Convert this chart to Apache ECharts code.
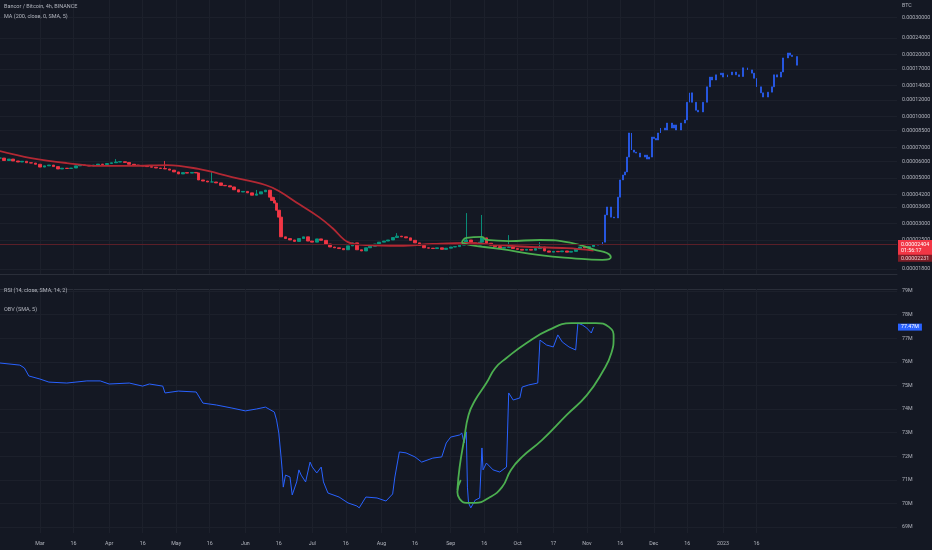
<!DOCTYPE html>
<html><head><meta charset="utf-8">
<script src="https://cdn.jsdelivr.net/npm/echarts@6/dist/echarts.min.js"></script>
<style>html,body{margin:0;padding:0;background:#141823;}#c{width:932px;height:550px;}</style>
</head><body><div id="c"></div>
<script>
// ---------------- DATA ----------------
const priceDates = ['2022-02-11','2022-02-13','2022-02-15','2022-02-17','2022-02-19','2022-02-21','2022-02-23','2022-02-25','2022-02-27',
'2022-03-01','2022-03-03','2022-03-05','2022-03-07','2022-03-09','2022-03-11','2022-03-13','2022-03-15','2022-03-17','2022-03-19','2022-03-21','2022-03-23','2022-03-25','2022-03-27','2022-03-29','2022-03-31',
'2022-04-02','2022-04-04','2022-04-06','2022-04-08','2022-04-10','2022-04-12','2022-04-14','2022-04-16','2022-04-18','2022-04-20','2022-04-22','2022-04-24','2022-04-26','2022-04-28','2022-04-30',
'2022-05-02','2022-05-04','2022-05-06','2022-05-08','2022-05-10','2022-05-11','2022-05-13','2022-05-15','2022-05-17','2022-05-19','2022-05-21','2022-05-23','2022-05-25','2022-05-27','2022-05-29','2022-05-31',
'2022-06-02','2022-06-04','2022-06-06','2022-06-08','2022-06-10','2022-06-12','2022-06-13','2022-06-14','2022-06-15','2022-06-16','2022-06-17','2022-06-19','2022-06-21','2022-06-23','2022-06-25','2022-06-27','2022-06-29',
'2022-07-01','2022-07-03','2022-07-05','2022-07-07','2022-07-09','2022-07-11','2022-07-13','2022-07-15','2022-07-17','2022-07-19','2022-07-21','2022-07-23','2022-07-25','2022-07-27','2022-07-29','2022-07-31',
'2022-08-02','2022-08-04','2022-08-06','2022-08-08','2022-08-10','2022-08-12','2022-08-14','2022-08-16','2022-08-18','2022-08-20','2022-08-22','2022-08-24','2022-08-26','2022-08-28','2022-08-30',
'2022-09-01','2022-09-03','2022-09-05','2022-09-07','2022-09-08','2022-09-10','2022-09-12','2022-09-14','2022-09-15','2022-09-17','2022-09-19','2022-09-21','2022-09-23','2022-09-25','2022-09-27','2022-09-29',
'2022-10-01','2022-10-03','2022-10-05','2022-10-07','2022-10-09','2022-10-11','2022-10-13','2022-10-15','2022-10-17','2022-10-19','2022-10-21','2022-10-23','2022-10-25','2022-10-27','2022-10-29','2022-10-31',
'2022-11-02','2022-11-04'];
const priceClose = [6.27e-5,6.10e-5,6.20e-5,6.07e-5,6.00e-5,6.05e-5,5.95e-5,5.93e-5,5.85e-5,
5.67e-5,5.75e-5,5.80e-5,5.70e-5,5.55e-5,5.60e-5,5.58e-5,5.61e-5,5.75e-5,5.80e-5,5.78e-5,5.74e-5,5.80e-5,5.86e-5,5.83e-5,5.90e-5,
5.95e-5,6.00e-5,6.02e-5,5.97e-5,5.85e-5,5.80e-5,5.77e-5,5.74e-5,5.70e-5,5.66e-5,5.61e-5,5.58e-5,5.55e-5,5.48e-5,5.37e-5,
5.25e-5,5.33e-5,5.30e-5,5.34e-5,5.31e-5,4.91e-5,4.85e-5,4.80e-5,4.80e-5,4.75e-5,4.62e-5,4.60e-5,4.54e-5,4.40e-5,4.29e-5,4.32e-5,
4.25e-5,4.14e-5,4.20e-5,4.30e-5,4.38e-5,4.05e-5,3.90e-5,3.79e-5,3.50e-5,3.24e-5,2.60e-5,2.55e-5,2.51e-5,2.47e-5,2.55e-5,2.60e-5,2.48e-5,
2.45e-5,2.54e-5,2.50e-5,2.40e-5,2.32e-5,2.30e-5,2.28e-5,2.25e-5,2.35e-5,2.43e-5,2.25e-5,2.22e-5,2.30e-5,2.34e-5,2.40e-5,2.45e-5,
2.48e-5,2.51e-5,2.58e-5,2.62e-5,2.60e-5,2.57e-5,2.50e-5,2.43e-5,2.36e-5,2.30e-5,2.29e-5,2.28e-5,2.30e-5,2.26e-5,2.29e-5,
2.32e-5,2.33e-5,2.37e-5,2.42e-5,2.51e-5,2.43e-5,2.37e-5,2.45e-5,2.57e-5,2.42e-5,2.37e-5,2.33e-5,2.29e-5,2.31e-5,2.32e-5,2.28e-5,
2.26e-5,2.24e-5,2.26e-5,2.24e-5,2.28e-5,2.32e-5,2.22e-5,2.19e-5,2.21e-5,2.20e-5,2.22e-5,2.19e-5,2.21e-5,2.28e-5,2.32e-5,2.30e-5,
2.33e-5,2.38e-5];
const wickDates = ['2022-04-04','2022-04-26','2022-05-17','2022-06-06','2022-06-14','2022-08-08','2022-09-08','2022-09-15','2022-09-27','2022-10-11'];
const wickHigh  = [6.20e-5,6.07e-5,5.37e-5,4.39e-5,4.05e-5,2.71e-5,3.39e-5,3.32e-5,2.65e-5,2.45e-5];

const projDates = ['2022-11-06','2022-11-08','2022-11-09','2022-11-10','2022-11-12','2022-11-13','2022-11-15','2022-11-16','2022-11-17','2022-11-18','2022-11-19','2022-11-20','2022-11-21','2022-11-22','2022-11-23','2022-11-25','2022-11-27','2022-11-28','2022-11-29','2022-11-30',
'2022-12-01','2022-12-02','2022-12-03','2022-12-04','2022-12-06','2022-12-07','2022-12-09','2022-12-10','2022-12-11','2022-12-13','2022-12-15','2022-12-16','2022-12-17','2022-12-18','2022-12-20','2022-12-21','2022-12-23','2022-12-25','2022-12-26','2022-12-27','2022-12-29','2022-12-31',
'2023-01-01','2023-01-03','2023-01-05','2023-01-07','2023-01-08','2023-01-10','2023-01-12','2023-01-14','2023-01-15','2023-01-16','2023-01-18','2023-01-19','2023-01-21','2023-01-23','2023-01-24','2023-01-25','2023-01-27','2023-01-28','2023-01-30','2023-01-31',
'2023-02-01','2023-02-03'];
const projClose = [2.37e-5,2.45e-5,3.32e-5,3.63e-5,3.24e-5,3.21e-5,4.05e-5,4.91e-5,5.19e-5,5.37e-5,6.34e-5,8.30e-5,6.86e-5,6.70e-5,6.63e-5,6.34e-5,6.48e-5,6.20e-5,6.34e-5,7.93e-5,
7.80e-5,7.67e-5,8.30e-5,8.77e-5,8.58e-5,9.27e-5,8.77e-5,9.08e-5,8.58e-5,9.27e-5,9.60e-5,11.7e-5,13.0e-5,11.7e-5,10.7e-5,10.5e-5,11.7e-5,13.9e-5,15.5e-5,15.0e-5,15.9e-5,16.2e-5,
15.5e-5,15.9e-5,16.4e-5,15.9e-5,15.6e-5,17.2e-5,16.8e-5,16.2e-5,15.3e-5,13.9e-5,13.0e-5,12.4e-5,13.1e-5,13.9e-5,15.9e-5,15.5e-5,16.4e-5,19.2e-5,20.3e-5,19.8e-5,
19.5e-5,17.7e-5];

const maDates  = ['2022-02-11','2022-02-25','2022-03-13','2022-03-28','2022-04-11','2022-04-27','2022-05-11','2022-05-26','2022-06-10','2022-06-16','2022-06-25','2022-07-04','2022-07-10','2022-07-17','2022-07-25','2022-08-09','2022-08-24','2022-09-08','2022-09-23','2022-10-07','2022-10-23','2022-11-04'];
const maValues = [6.78e-5,6.27e-5,5.93e-5,5.74e-5,5.74e-5,5.80e-5,5.55e-5,5.07e-5,4.64e-5,4.34e-5,3.75e-5,3.24e-5,2.87e-5,2.45e-5,2.37e-5,2.35e-5,2.40e-5,2.43e-5,2.37e-5,2.32e-5,2.29e-5,2.231e-5];

const obvDates = ['2022-02-11','2022-02-20','2022-02-22','2022-02-24','2022-03-01','2022-03-05','2022-03-13','2022-03-22','2022-03-28','2022-04-01','2022-04-10','2022-04-16','2022-04-19','2022-04-25','2022-04-26',
'2022-05-02','2022-05-10','2022-05-13','2022-05-19','2022-05-26','2022-06-01','2022-06-06','2022-06-10','2022-06-14','2022-06-15','2022-06-16','2022-06-17 00:00','2022-06-17 12:00','2022-06-18','2022-06-19','2022-06-21','2022-06-22','2022-06-24','2022-06-25','2022-06-26','2022-06-28','2022-06-30',
'2022-07-01','2022-07-03','2022-07-05','2022-07-06','2022-07-08','2022-07-13','2022-07-17','2022-07-21','2022-07-22','2022-07-25','2022-07-30','2022-08-03','2022-08-06','2022-08-07','2022-08-09','2022-08-12','2022-08-16','2022-08-19','2022-08-24','2022-08-28','2022-08-30',
'2022-09-01','2022-09-05','2022-09-06','2022-09-07','2022-09-08 00:00','2022-09-08 12:00','2022-09-09','2022-09-10','2022-09-12','2022-09-14','2022-09-15 00:00','2022-09-15 12:00','2022-09-17','2022-09-20','2022-09-23','2022-09-26','2022-09-27','2022-09-29',
'2022-10-02','2022-10-03','2022-10-06','2022-10-10','2022-10-11','2022-10-14','2022-10-17','2022-10-19','2022-10-21','2022-10-24','2022-10-27','2022-10-28','2022-10-30','2022-11-01','2022-11-03','2022-11-04'];
const obvValues = [75.95e6,75.86e6,75.74e6,75.40e6,75.27e6,75.14e6,75.10e6,75.19e6,75.19e6,75.06e6,75.10e6,74.97e6,75.06e6,74.97e6,74.68e6,
74.76e6,74.72e6,74.25e6,74.17e6,74.04e6,73.92e6,74.00e6,74.08e6,73.87e6,73.53e6,72.98e6,71.97e6,71.42e6,70.69e6,71.20e6,71.12e6,70.36e6,70.91e6,71.42e6,71.20e6,70.91e6,71.75e6,
71.54e6,71.29e6,71.54e6,70.91e6,70.44e6,70.27e6,70.02e6,69.89e6,69.81e6,70.27e6,70.23e6,70.10e6,70.40e6,71.12e6,72.18e6,72.14e6,71.97e6,71.75e6,71.92e6,71.97e6,72.56e6,
72.81e6,72.90e6,72.98e6,72.56e6,73.03e6,70.69e6,70.02e6,69.81e6,70.14e6,70.23e6,72.35e6,71.42e6,71.71e6,71.42e6,71.33e6,71.54e6,74.68e6,74.38e6,
74.47e6,74.93e6,75.02e6,75.10e6,76.92e6,76.71e6,76.63e6,77.14e6,76.84e6,76.63e6,76.50e6,77.64e6,77.56e6,77.43e6,77.22e6,77.47e6];

// hand-drawn green annotations (in data coordinates)
const loopTopDates  = ['2022-09-06','2022-09-08','2022-09-15','2022-09-17','2022-09-27','2022-10-11','2022-10-25','2022-11-05','2022-11-10','2022-11-11 18:00','2022-11-08','2022-10-25','2022-10-11','2022-09-23','2022-09-10','2022-09-06'];
const loopTopValues = [2.43e-5,2.57e-5,2.60e-5,2.51e-5,2.48e-5,2.51e-5,2.43e-5,2.24e-5,2.17e-5,2.07e-5,2.01e-5,2.05e-5,2.12e-5,2.27e-5,2.37e-5,2.43e-5];
const loopObvDates  = ['2022-09-04','2022-09-05','2022-09-07','2022-09-09','2022-09-12','2022-09-17','2022-09-21','2022-09-26','2022-10-05','2022-10-15','2022-10-25','2022-11-05','2022-11-11','2022-11-13','2022-11-12','2022-11-08','2022-11-01','2022-10-23','2022-10-12','2022-10-03','2022-09-28','2022-09-24','2022-09-18','2022-09-12','2022-09-08','2022-09-05','2022-09-04','2022-09-05 12:00'];
const loopObvValues = [70.57e6,71.54e6,72.69e6,73.75e6,74.38e6,75.10e6,75.74e6,76.16e6,76.80e6,77.35e6,77.64e6,77.64e6,77.47e6,77.05e6,76.37e6,75.57e6,74.59e6,73.75e6,72.69e6,71.97e6,71.42e6,70.69e6,70.23e6,70.02e6,70.02e6,70.19e6,70.48e6,70.99e6];

// axes / ticks
const xRange = ['2022-02-11 02:00','2023-03-19 23:00'];
const priceRange = [1.716e-5, 3.669e-4];
const obvRange = [68.746e6, 79.085e6];
const priceTicks = [3e-4,2.4e-4,2e-4,1.7e-4,1.4e-4,1.2e-4,1e-4,8.5e-5,7e-5,6e-5,5e-5,4.2e-5,3.6e-5,3e-5,2.5e-5,1.8e-5];
const obvTicks = [69e6,70e6,71e6,72e6,73e6,74e6,75e6,76e6,77e6,78e6,79e6];
const tickDates = ['2022-03-01','2022-03-16','2022-04-01','2022-04-16','2022-05-01','2022-05-16','2022-06-01','2022-06-16','2022-07-01','2022-07-16','2022-08-01','2022-08-16','2022-09-01','2022-09-16','2022-10-01','2022-10-17','2022-11-01','2022-11-16','2022-12-01','2022-12-16','2023-01-01','2023-01-16'];
const tickLabels = ['Mar','16','Apr','16','May','16','Jun','16','Jul','16','Aug','16','Sep','16','Oct','17','Nov','16','Dec','16','2023','16'];
const currentPrice = 2.404e-5;
const countdown = '01:56:17';

// ---------------- BUILD ----------------
// price pane uses a logarithmic scale: values are mapped through log10 onto a linear axis
const L = Math.log10;
function ts(s){const [d,t]=s.split(' ');const p=d.split('-').map(Number);let h=0,m=0;if(t){[h,m]=t.split(':').map(Number);}return new Date(p[0],p[1]-1,p[2],h,m).getTime();}
function pairs(ds,vs,f){f=f||(v=>v);return ds.map((d,i)=>[ts(d),f(vs[i])]);}
const histCandles = priceDates.map((d,i)=>{const o=i===0?priceClose[0]:priceClose[i-1];const c=priceClose[i];let h=Math.max(o,c),l=Math.min(o,c);const k=wickDates.indexOf(d);if(k>=0)h=Math.max(h,wickHigh[k]);return [ts(d),L(o),L(c),L(l),L(h)];});
const projCandles = projDates.map((d,i)=>{const o=i===0?priceClose[priceClose.length-1]:projClose[i-1];const c=projClose[i];return [ts(d),L(o),L(c),L(Math.min(o,c)),L(Math.max(o,c))];});

const TXT='#b2b5be', GRID='#1c202b', SEP='#2a2e39', FS=5.3, FF='Roboto';
const lastObv = obvValues[obvValues.length-1];
const lastMa = maValues[maValues.length-1];
const NOLINE = {color:'rgba(0,0,0,0)',width:0};

const option = {
  backgroundColor:'#141823', animation:false,
  textStyle:{fontFamily:FF},
  grid:[{left:0,right:35,top:0,height:274},{left:0,right:35,top:289,height:244}],
  xAxis:[
    {type:'time',gridIndex:0,min:ts(xRange[0]),max:ts(xRange[1]),position:'bottom',axisLine:{show:true,onZero:false,lineStyle:{color:SEP}},axisTick:{show:false},axisLabel:{show:false},splitLine:{show:false}},
    {type:'time',gridIndex:1,min:ts(xRange[0]),max:ts(xRange[1]),position:'top',axisLine:{show:true,onZero:false,lineStyle:{color:SEP}},axisTick:{show:false},axisLabel:{show:false},splitLine:{show:false}}
  ],
  yAxis:[
    {type:'value',gridIndex:0,min:L(priceRange[0]),max:L(priceRange[1]),show:false},
    {type:'value',gridIndex:1,min:obvRange[0],max:obvRange[1],show:false}
  ],
  graphic:[
    {type:'text',z:100,left:4,top:4,style:{text:'Bancor / Bitcoin, 4h, BINANCE',fill:TXT,fontSize:5.5,fontFamily:FF}},
    {type:'text',z:100,left:4,top:14,style:{text:'MA (200, close, 0, SMA, 5)',fill:TXT,fontSize:5.5,fontFamily:FF}},
    {type:'text',z:100,left:4,top:288,style:{text:'RSI (14, close, SMA, 14, 2)',fill:TXT,fontSize:5.5,fontFamily:FF}},
    {type:'text',z:100,left:4,top:307,style:{text:'OBV (SMA, 5)',fill:TXT,fontSize:5.5,fontFamily:FF}},
    {type:'text',z:100,left:902,top:3,style:{text:'BTC',fill:TXT,fontSize:FS,fontFamily:FF}}
  ],
  series:[
    {type:'line',xAxisIndex:0,yAxisIndex:0,data:pairs(priceDates,priceClose,L),symbol:'none',lineStyle:{opacity:0},silent:true,z:0,
     markLine:{silent:true,z:1,symbol:['none','none'],animation:false,lineStyle:{color:GRID,width:1,type:'solid'},
       label:{show:true,position:'end',distance:5,color:TXT,fontSize:FS,fontFamily:FF},
       data:priceTicks.map(v=>({yAxis:L(v),label:{formatter:v.toFixed(8)}})).concat(tickDates.map(d=>({xAxis:ts(d),label:{show:false}})))}},
    {type:'candlestick',xAxisIndex:0,yAxisIndex:0,data:histCandles,barWidth:3.2,z:3,
     itemStyle:{color:'#089981',color0:'#f23645',borderColor:'#089981',borderColor0:'#f23645',borderWidth:0.9}},
    {type:'candlestick',xAxisIndex:0,yAxisIndex:0,data:projCandles,barWidth:1.4,z:3,
     itemStyle:{color:'#2962ff',color0:'#2962ff',borderColor:'#2962ff',borderColor0:'#2962ff',borderWidth:0.7},
     markLine:{silent:true,z:10,symbol:['none','none'],animation:false,
       data:[{yAxis:L(currentPrice),lineStyle:{color:'#5a1f28',width:1,type:'solid'},
         label:{show:true,position:'end',distance:1,formatter:currentPrice.toFixed(8)+'\n'+countdown,backgroundColor:'#f23645',color:'#ffffff',fontSize:FS,fontFamily:FF,lineHeight:6.5,padding:[1,3,1,3],offset:[0,3.5]}}]}},
    {type:'line',xAxisIndex:0,yAxisIndex:0,data:pairs(maDates,maValues,L),symbol:'none',smooth:0.4,z:4,lineStyle:{color:'#b22833',width:1.8},
     markLine:{silent:true,z:10,symbol:['none','none'],animation:false,
       data:[{yAxis:L(lastMa),lineStyle:NOLINE,
         label:{show:true,position:'end',distance:1,formatter:lastMa.toFixed(8),backgroundColor:'#7c1c26',color:'#f0d0d4',fontSize:FS,fontFamily:FF,padding:[1,3,1,3],offset:[0,8]}}]}},
    {type:'line',xAxisIndex:0,yAxisIndex:0,data:pairs(loopTopDates,loopTopValues,L),symbol:'none',smooth:0.5,z:6,lineStyle:{color:'#4caf50',width:1.8}},
    {type:'line',xAxisIndex:1,yAxisIndex:1,data:pairs(obvDates,obvValues),symbol:'none',lineStyle:{opacity:0},silent:true,z:0,
     markLine:{silent:true,z:1,symbol:['none','none'],animation:false,lineStyle:{color:GRID,width:1,type:'solid'},
       label:{show:true,position:'end',distance:5,color:TXT,fontSize:FS,fontFamily:FF},
       data:obvTicks.map(v=>({yAxis:v,label:{formatter:(v/1e6).toFixed(0)+'M'}})).concat(tickDates.map((d,i)=>({xAxis:ts(d),label:{show:true,position:'start',distance:8,formatter:tickLabels[i]}})))}},
    {type:'line',xAxisIndex:1,yAxisIndex:1,data:pairs(obvDates,obvValues),symbol:'none',z:3,lineStyle:{color:'#2962ff',width:1},
     markLine:{silent:true,z:10,symbol:['none','none'],animation:false,
       data:[{yAxis:lastObv,lineStyle:NOLINE,
         label:{show:true,position:'end',distance:1,formatter:(lastObv/1e6).toFixed(2)+'M',backgroundColor:'#2962ff',color:'#ffffff',fontSize:FS,fontFamily:FF,padding:[1,3,1,3]}}]}},
    {type:'line',xAxisIndex:1,yAxisIndex:1,data:pairs(loopObvDates,loopObvValues),symbol:'none',smooth:0.5,z:6,lineStyle:{color:'#4caf50',width:1.8}}
  ]
};
const chart = echarts.init(document.getElementById('c'));
chart.setOption(option);
</script></body></html>
